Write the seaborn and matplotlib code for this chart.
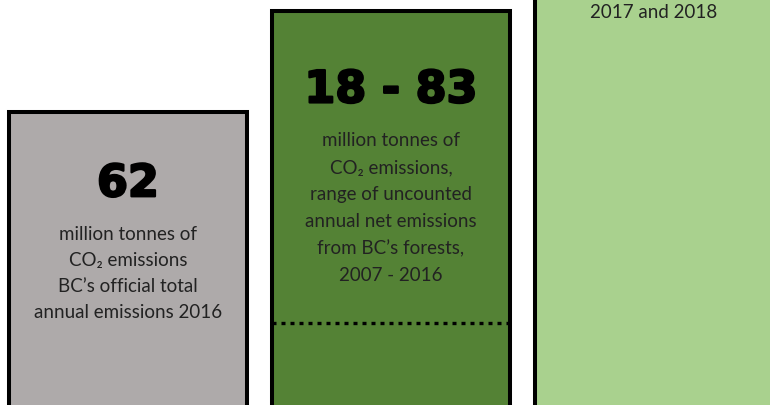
import matplotlib
matplotlib.use("Agg")
import matplotlib.pyplot as plt
import matplotlib.patheffects as pe
import seaborn as sns

# data
categories = ["BC official 2016", "BC forests 2007-2016", "Wildfires 2017-2018"]
values = [62, 83, 190]
range_low = 18
bar_colors = ["#AEAAAA", "#548235", "#A9D18E"]
big_labels = ["62", "18 - 83", ""]
small_labels = [
    "million tonnes of\nCO\u2082 emissions\nBC\u2019s official total\nannual emissions 2016",
    "million tonnes of\nCO\u2082 emissions,\nrange of uncounted\nannual net emissions\nfrom BC\u2019s forests,\n2007 - 2016",
    "2017 and 2018",
]

sns.set_style("white")
body_font = ["Lato", "DejaVu Sans"]

fig = plt.figure(figsize=(7.70, 4.06), dpi=100)
ax = fig.add_axes([0, 0, 1, 1])

sns.barplot(x=categories, y=values, hue=categories, palette=bar_colors,
            legend=False, width=0.905, edgecolor="black", linewidth=2.9,
            saturation=1, ax=ax)

ax.set_xlim(-0.4867, 2.441)
ax.set_ylim(0.8, 85.6)
ax.axis("off")

# dotted line marking the low end of the range
ax.hlines(range_low, 1 - 0.905 / 2, 1 + 0.905 / 2, colors="black",
          linewidth=2.4, linestyles=(0, (1.2, 1.5)))

# big numbers (extra stroke to get the heavy look)
heavy = [pe.withStroke(linewidth=1.6, foreground="black")]
ax.text(0, 47.0, big_labels[0], ha="center", va="center", fontsize=32,
        fontweight="bold", family="DejaVu Sans", color="black",
        path_effects=heavy)
ax.text(1, 66.6, big_labels[1], ha="center", va="center", fontsize=32,
        fontweight="bold", family="DejaVu Sans", color="black",
        path_effects=heavy)

# descriptions
ax.text(0, 38.3, small_labels[0], ha="center", va="top", fontsize=13.5,
        family=body_font, color="#222222", linespacing=1.64)
ax.text(1, 58.0, small_labels[1], ha="center", va="top", fontsize=13.5,
        family=body_font, color="#222222", linespacing=1.7)
ax.text(2, 81.8, small_labels[2], ha="center", va="baseline", fontsize=13.5,
        family=body_font, color="#222222")

fig.savefig("out.png", dpi=100, facecolor="white")
